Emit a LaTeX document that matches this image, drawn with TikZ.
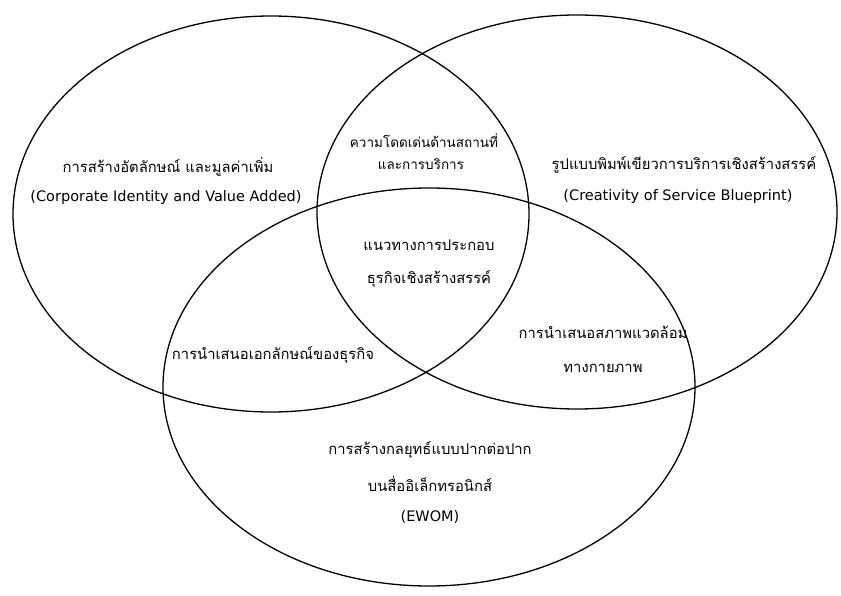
\documentclass[tikz,border=0pt]{standalone}
\usepackage{fontspec}
\newfontfamily\thaifont[Script=Thai]{Loma}
\newfontfamily\latfont{DejaVu Sans}
\begin{document}
\begin{tikzpicture}[x=1pt,y=-1pt,
  ring/.style={draw=black,line width=1.3pt},
  th/.style={font=\thaifont\fontsize{14.8}{16}\selectfont,inner sep=0pt,anchor=center},
  thsmall/.style={font=\thaifont\fontsize{13.5}{15}\selectfont,inner sep=0pt,anchor=center},
  en/.style={font=\latfont\fontsize{14.5}{16}\selectfont,inner sep=0pt,anchor=center}]
\useasboundingbox (0,0) rectangle (841,596);
\fill[white] (0,0) rectangle (841,596);
\draw[ring] (271,214) ellipse [x radius=258pt, y radius=198pt];
\draw[ring] (577,212) ellipse [x radius=260pt, y radius=197pt];
\draw[ring] (429,387) ellipse [x radius=266pt, y radius=199pt];

\node[th] (a1) at (168,167) {การสร้างอัตลักษณ์ และมูลค่าเพิ่ม};
\node[en] (a2) at (166,198) {(Corporate Identity and Value Added)};

\node[thsmall] (b1) at (424,141) {ความโดดเด่นด้านสถานที่};
\node[thsmall] (b2) at (421,164) {และการบริการ};

\node[th] (c1) at (684,165) {รูปแบบพิมพ์เขียวการบริการเชิงสร้างสรรค์};
\node[en] (c2) at (678,197) {(Creativity of Service Blueprint)};

\node[th] (d1) at (429,245) {แนวทางการประกอบ};
\node[th] (d2) at (429,279) {ธุรกิจเชิงสร้างสรรค์};

\node[th] (e1) at (273,355) {การนำเสนอเอกลักษณ์ของธุรกิจ};

\node[th] (f1) at (603,332) {การนำเสนอสภาพแวดล้อม};
\node[th] (f2) at (603,368) {ทางกายภาพ};

\node[th] (g1) at (430,450) {การสร้างกลยุทธ์แบบปากต่อปาก};
\node[th] (g2) at (430,484) {บนสื่ออิเล็กทรอนิกส์};
\node[en] (g3) at (430,517) {(EWOM)};
\end{tikzpicture}
\end{document}
